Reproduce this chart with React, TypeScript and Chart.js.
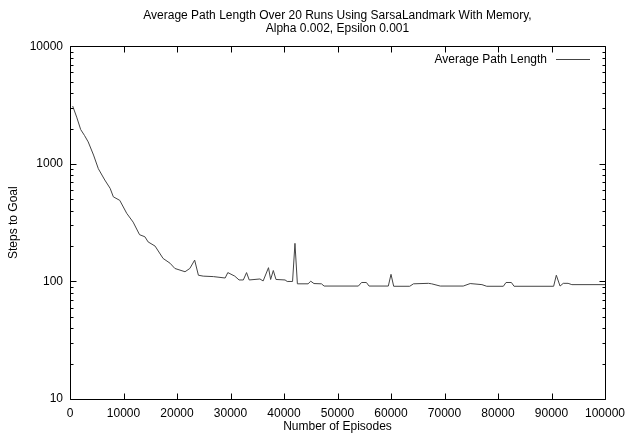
import React, { useEffect, useRef } from "react";
import { Chart, registerables } from "chart.js";

Chart.register(...registerables);

const titleLines = [
  "Average Path Length Over 20 Runs Using SarsaLandmark With Memory,",
  "Alpha 0.002, Epsilon 0.001",
];
const seriesLabel = "Average Path Length";
const xAxisTitle = "Number of Episodes";
const yAxisTitle = "Steps to Goal";
const yTickValues = [10, 100, 1000, 10000];

const episodes = [
  500, 1250, 2000, 2700, 3400, 4400, 5300, 6500, 7500, 8100, 9300, 10600, 11800,
  13000, 14000, 14600, 15900, 17400, 18700, 19600, 21500, 22400, 23300, 24000,
  24900, 26800, 29000, 29500, 30800, 31600, 32400, 33000, 33500, 35500, 36100,
  37100, 37500, 38000, 38500, 40200, 40600, 41600, 42050, 42500, 44500, 45000,
  45600, 47000, 47500, 53900, 54500, 55400, 55900, 59500, 60000, 60500, 63500,
  64200, 67000, 67600, 69200, 73500, 74800, 77000, 77900, 81000, 81500, 82500,
  83000, 90400, 90900, 91600, 92200, 93100, 93800, 100000,
];
const avgPathLength = [
  3110, 2500, 1960, 1750, 1540, 1190, 910, 730, 620, 525, 490, 380, 320,
  250, 240, 217, 200, 157, 143, 129, 121, 129, 152, 113,
  111, 110, 107, 119, 111, 103, 103, 119, 103, 105, 101,
  131, 104, 124, 104, 103, 100, 100, 211, 95.5, 95.5, 100.5,
  96, 95.5, 91.4, 91.4, 98, 98, 91.4, 91.4, 115, 91, 91,
  95.5, 96.4, 95.5, 91.4, 91.4, 96, 94, 91, 91, 98, 98,
  91, 91, 113, 91.4, 96.4, 96.4, 94, 94,
];

const FONT = "'Liberation Sans', Arial, sans-serif";

const framePlugin = {
  id: "gnuplotFrame",
  afterDraw(chart: any) {
    const { ctx, chartArea } = chart;
    const { left, right, top, bottom } = chartArea;
    const xs = chart.scales.x;
    const ys = chart.scales.y;
    ctx.save();
    ctx.strokeStyle = "#000";
    ctx.lineWidth = 1;
    const L = Math.round(left) + 0.5;
    const R = Math.round(right) + 0.5;
    const T = Math.round(top) + 0.5;
    const B = Math.round(bottom) + 0.5;
    ctx.beginPath();
    ctx.rect(L, T, R - L, B - T);
    for (let v = 0; v <= 100000; v += 10000) {
      const px = Math.round(xs.getPixelForValue(v)) + 0.5;
      ctx.moveTo(px, B);
      ctx.lineTo(px, B - 6);
      ctx.moveTo(px, T);
      ctx.lineTo(px, T + 6);
    }
    for (let d = 10; d <= 10000; d *= 10) {
      for (let m = 1; m <= 9; m++) {
        const v = d * m;
        if (v > 10000) break;
        const py = Math.round(ys.getPixelForValue(v)) + 0.5;
        const len = m === 1 ? 6 : 3;
        ctx.moveTo(L, py);
        ctx.lineTo(L + len, py);
        ctx.moveTo(R, py);
        ctx.lineTo(R - len, py);
      }
    }
    ctx.stroke();

    ctx.fillStyle = "#000";
    ctx.font = `12px ${FONT}`;
    ctx.textAlign = "right";
    ctx.textBaseline = "middle";
    ctx.fillText(seriesLabel, right - 58, top + 13);
    ctx.strokeStyle = "#444";
    ctx.beginPath();
    ctx.moveTo(right - 49, Math.round(top + 13) + 0.5);
    ctx.lineTo(right - 15, Math.round(top + 13) + 0.5);
    ctx.stroke();
    ctx.restore();
  },
};

export default function App() {
  const ref = useRef<HTMLCanvasElement | null>(null);

  useEffect(() => {
    if (!ref.current) return;
    const chart = new Chart(ref.current, {
      type: "line",
      data: {
        datasets: [
          {
            label: seriesLabel,
            data: episodes.map((e, i) => ({ x: e, y: avgPathLength[i] })),
            borderColor: "#444",
            borderWidth: 1,
            pointRadius: 0,
            fill: false,
            tension: 0,
          },
        ],
      },
      options: {
        animation: false,
        responsive: false,
        devicePixelRatio: 1,
        layout: { padding: { left: 0, right: 21, top: 0, bottom: 0 } },
        plugins: {
          legend: { display: false },
          tooltip: { enabled: false },
          title: {
            display: true,
            text: titleLines,
            fullSize: false,
            color: "#000",
            font: { family: FONT, size: 12, weight: "normal", lineHeight: 1.1 },
            padding: { top: 9, bottom: 11 },
          },
        },
        scales: {
          x: {
            type: "linear",
            min: 0,
            max: 100000,
            grid: { display: false, drawTicks: false },
            border: { display: false },
            ticks: {
              stepSize: 10000,
              padding: 7,
              color: "#000",
              font: { family: FONT, size: 12 },
              maxRotation: 0,
              autoSkip: false,
              callback: (v: any) => String(v),
            },
            title: {
              display: true,
              text: xAxisTitle,
              color: "#000",
              font: { family: FONT, size: 12 },
              padding: { top: 0, bottom: 0 },
            },
            afterFit: (s: any) => {
              s.height = 35;
              s.paddingLeft = 0;
              s.paddingRight = 0;
            },
          },
          y: {
            type: "logarithmic",
            min: 10,
            max: 10000,
            grid: { display: false, drawTicks: false },
            border: { display: false },
            afterBuildTicks: (s: any) => {
              s.ticks = yTickValues.map((v) => ({ value: v }));
            },
            ticks: {
              padding: 7,
              color: "#000",
              font: { family: FONT, size: 12 },
              autoSkip: false,
              callback: (v: any) => String(v),
            },
            title: {
              display: true,
              text: yAxisTitle,
              color: "#000",
              font: { family: FONT, size: 12 },
              padding: { top: 6, bottom: 0 },
            },
            afterFit: (s: any) => {
              s.width = 70;
              s.paddingTop = 0;
              s.paddingBottom = 0;
            },
          },
        },
      },
      plugins: [framePlugin],
    });
    return () => chart.destroy();
  }, []);

  return (
    <div style={{ position: "absolute", left: 0, top: 0, width: 626, height: 434, background: "#fff" }}>
      <canvas ref={ref} width={626} height={434} />
    </div>
  );
}
